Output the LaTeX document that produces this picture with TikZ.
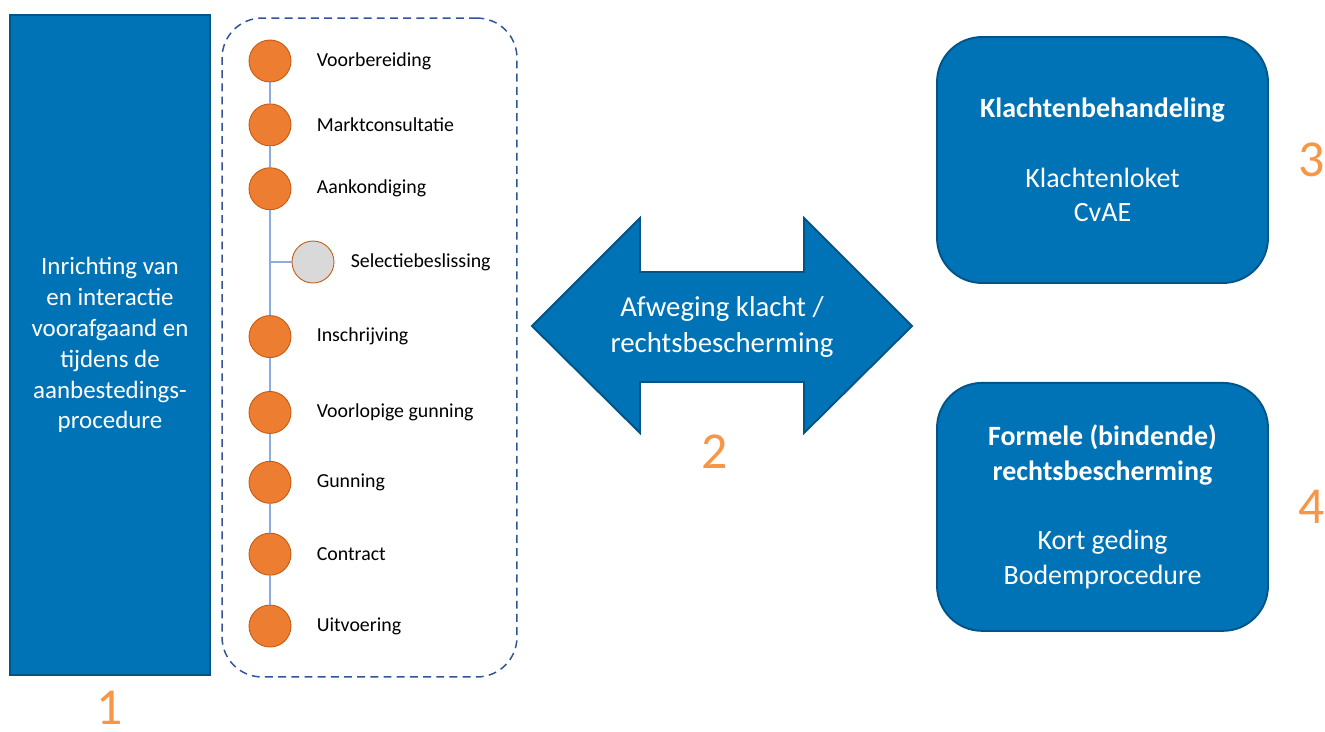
\documentclass[tikz,border=0pt]{standalone}
\usepackage{fontspec}
\setmainfont{Carlito}
\usetikzlibrary{positioning}

\definecolor{boxblue}{RGB}{0,115,182}
\definecolor{boxedge}{RGB}{0,84,136}
\definecolor{dotorange}{RGB}{237,125,49}
\definecolor{dotedge}{RGB}{197,90,17}
\definecolor{dotgrey}{RGB}{217,217,217}
\definecolor{lineblue}{RGB}{143,170,220}
\definecolor{dashblue}{RGB}{47,85,151}
\definecolor{numorange}{RGB}{247,150,70}

\tikzset{
  bluebox/.style={draw=boxedge, fill=boxblue, line width=1.1pt, text=white, align=center},
  dot/.style={circle, draw=dotedge, fill=dotorange, line width=0.5pt, minimum size=0.84cm, inner sep=0},
  greydot/.style={dot, fill=dotgrey},
  phase/.style={inner sep=0, font=\fontsize{11.3pt}{13.6pt}\selectfont},
  stem/.style={draw=lineblue, line width=0.8pt},
  number/.style={text=numorange, font=\fontsize{29.5pt}{35pt}\selectfont, inner sep=0}
}

\begin{document}
\begin{tikzpicture}[x=0.02cm, y=-0.02cm]
\useasboundingbox (0,0) rectangle (1325,731);

% Block 1 %
\node[bluebox, rectangle, minimum width=4cm, minimum height=13.2cm,
      font=\fontsize{14.2pt}{17.6pt}\selectfont] (inrichting) at (110,345)
  {Inrichting van\\en interactie\\voorafgaand en\\tijdens de\\aanbestedings-\\procedure};
\node[below=0.3cm of inrichting, number] (num1) {1};

% Procedure steps %
\node[draw=dashblue, line width=0.85pt, dash pattern=on 4.5pt off 3pt, rounded corners=0.8cm,
      minimum width=5.9cm, minimum height=13.18cm] (fase) at (369.5,347.5) {};

\node[dot] (v1) at (270,61) {};
\node[dot, below=0.42cm of v1] (v2) {};
\node[dot, below=0.42cm of v2] (v3) {};
\node[dot, below=2.1cm of v3] (v4) {};
\node[dot, below=0.66cm of v4] (v5) {};
\node[dot, below=0.54cm of v5] (v6) {};
\node[dot, below=0.58cm of v6] (v7) {};
\node[dot, below=0.58cm of v7] (v8) {};
\node[greydot] (sel) at (313,262) {};

\node[phase, right=0.5cm of v1] (t1) {Voorbereiding};
\node[phase, right=0.5cm of v2] (t2) {Marktconsultatie};
\node[phase, right=0.5cm of v3] (t3) {Aankondiging};
\node[phase, right=0.32cm of sel] (tsel) {Selectiebeslissing};
\node[phase, right=0.5cm of v4] (t4) {Inschrijving};
\node[phase, right=0.5cm of v5] (t5) {Voorlopige gunning};
\node[phase, right=0.5cm of v6] (t6) {Gunning};
\node[phase, right=0.5cm of v7] (t7) {Contract};
\node[phase, right=0.5cm of v8] (t8) {Uitvoering};

\draw[stem] (v1) -- (v2);
\draw[stem] (v2) -- (v3);
\draw[stem] (v3) -- (v4);
\draw[stem] (v4) -- (v5);
\draw[stem] (v5) -- (v6);
\draw[stem] (v6) -- (v7);
\draw[stem] (v7) -- (v8);
\draw[stem] (v3 |- sel) -- (sel);

% Block 2 %
\draw[draw=boxedge, fill=boxblue, line width=1.1pt, line join=miter]
  (532,326) -- (640,218) -- (640,272) -- (804,272) -- (804,218) -- (912,326)
  -- (804,433) -- (804,382) -- (640,382) -- (640,433) -- cycle;
\node[text=white, align=center, font=\fontsize{16.4pt}{20.4pt}\selectfont] (afweging) at (722,327)
  {Afweging klacht /\\rechtsbescherming};
\node[number] (num2) at (715,452) {2};

% Blocks 3 and 4 %
\node[bluebox, rectangle, rounded corners=0.9cm, minimum width=6.62cm, minimum height=4.92cm,
      font=\fontsize{15.9pt}{19.8pt}\selectfont] (klacht) at (1102.5,160)
  {\textbf{Klachtenbehandeling}\\[19.8pt]Klachtenloket\\CvAE};
\node[bluebox, rectangle, rounded corners=0.9cm, minimum width=6.62cm, minimum height=4.96cm,
      font=\fontsize{15.9pt}{19.8pt}\selectfont, below=1.96cm of klacht] (formeel)
  {\textbf{Formele (bindende)}\\\textbf{rechtsbescherming}\\[19.8pt]Kort geding\\Bodemprocedure};
\node[number, right=0.58cm of klacht] (num3) {3};
\node[number, right=0.58cm of formeel] (num4) {4};

\end{tikzpicture}
\end{document}
